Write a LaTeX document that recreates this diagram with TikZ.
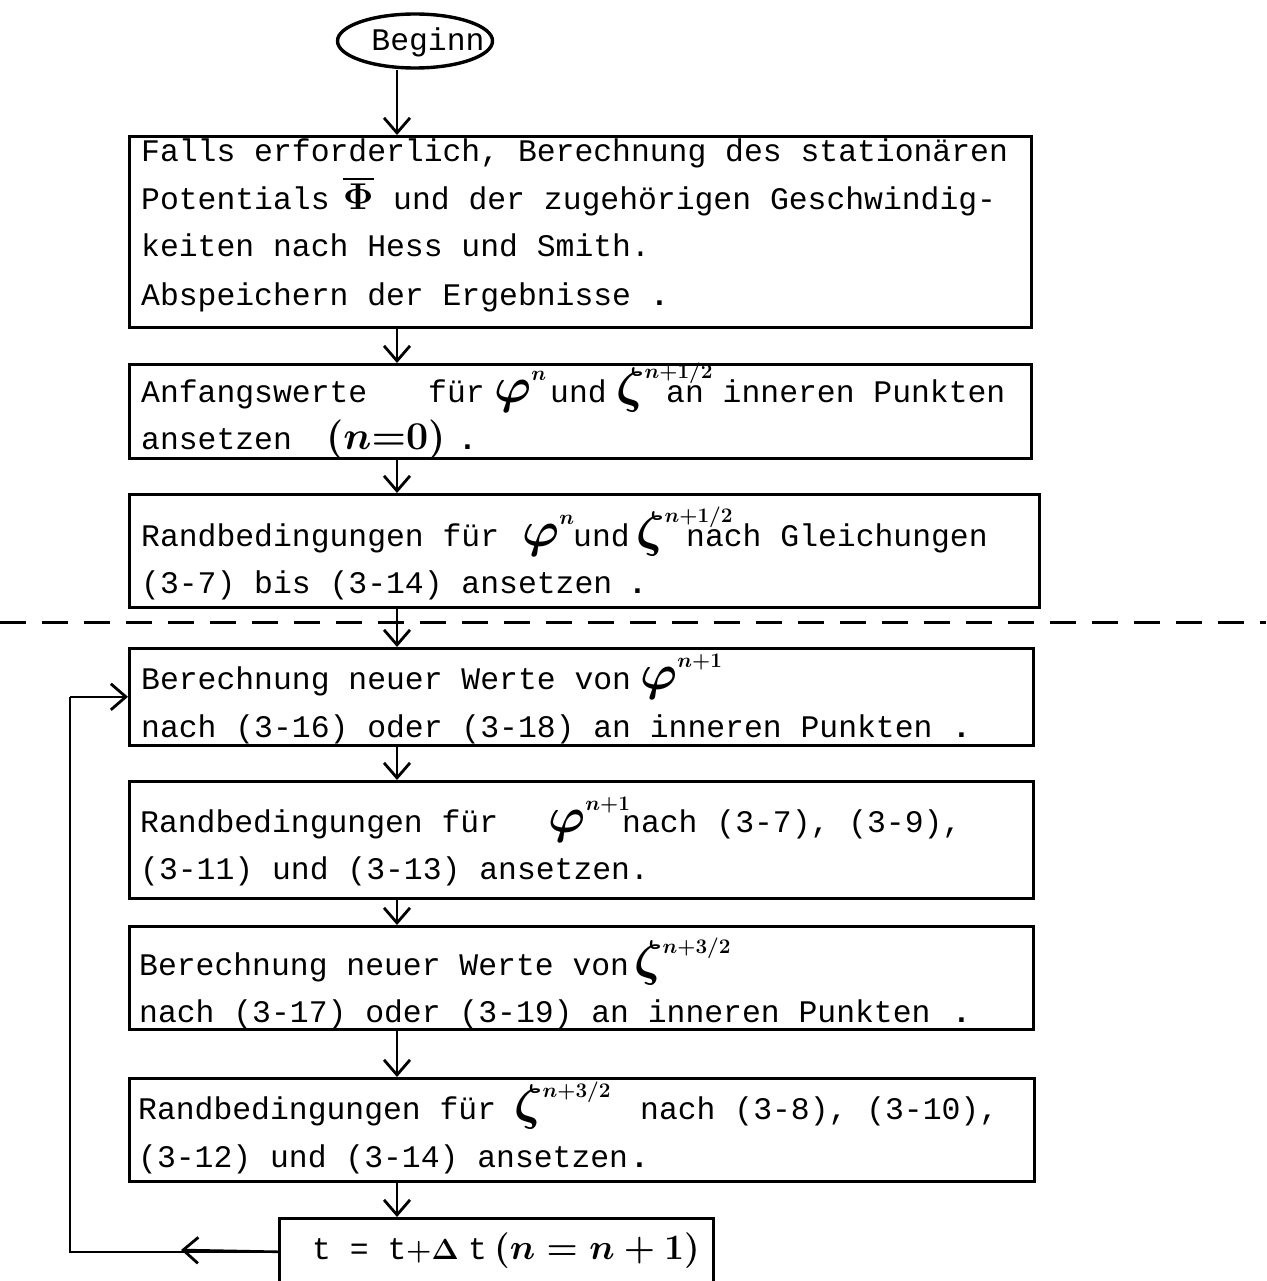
\documentclass[tikz,border=0pt]{standalone}
\usepackage{amsmath}
\usepackage{graphicx}
\usepackage{fontspec}
\usetikzlibrary{arrows.meta,shapes.geometric}
\newfontfamily\tw{Liberation Mono}
% handwritten symbol with raised small superscript (base at 20pt scaled)
\newcommand\hws[3][22pt]{{\fontsize{20}{22}\selectfont\scalebox{2.4}{$\boldsymbol{#2}$}}\raisebox{#1}{\fontsize{20.74}{22}\selectfont$\boldsymbol{#3}$}}
\newcommand\hwm[2][2]{{\fontsize{20}{22}\selectfont\scalebox{#1}{$\boldsymbol{#2}$}}}
\begin{document}
\begin{tikzpicture}[x=1pt,y=-1pt,
  fbox/.style={draw,line width=2.6pt,inner sep=0pt,anchor=north west},
  txt/.style={anchor=base west,inner sep=0pt,font=\tw\fontsize{31.4}{40}\selectfont},
  sym/.style={anchor=base west,inner sep=0pt},
  arr/.style={line width=2.6pt,-{Straight Barb[length=15pt,width=26pt,line width=2.8pt]}},
  conn/.style={line width=2.6pt}]
\clip (0,0) rectangle (1266,1281);
\fill[white] (0,0) rectangle (1266,1281);
\coordinate (ax) at (397,0);
\coordinate (lx) at (70,0);
% start
\node[draw,ellipse,line width=3.4pt,minimum width=155pt,minimum height=54pt,inner sep=0pt] (beginn) at (415,41) {};
\node[txt,anchor=base] (beginntxt) at (428,51) {Beginn};
% boxes
\node[fbox,minimum width=902pt,minimum height=191pt] (b1) at (128,135) {};
\node[fbox,minimum width=902pt,minimum height=94pt] (b2) at (128,363) {};
\node[fbox,minimum width=910pt,minimum height=113pt] (b3) at (128,493) {};
\node[fbox,minimum width=904pt,minimum height=97pt] (b4) at (128,647) {};
\node[fbox,minimum width=904pt,minimum height=117pt] (b5) at (128,780) {};
\node[fbox,minimum width=904pt,minimum height=103pt] (b6) at (128,925) {};
\node[fbox,minimum width=905pt,minimum height=103pt] (b7) at (128,1077) {};
\node[fbox,minimum width=434pt,minimum height=67pt] (b8) at (278,1217) {};
% box 1
\node[txt] (t1a) at (141,162) {Falls erforderlich, Berechnung des stationären};
\node[txt] (t1b) at (141,210) {Potentials};
\node[sym] (s1b) at (343,210) {\hwm[1.8]{\overline{\Phi}}};
\node[txt] (t1c) at (393,210) {und der zugehörigen Geschwindig-};
\node[txt] (t1d) at (141,257) {keiten nach Hess und Smith.};
\node[txt] (t1e) at (141,305) {Abspeichern der Ergebnisse};
\node[txt] (t1f) at (650,305) {\textbf{.}};
% box 2
\node[txt] (t2a) at (141,402) {Anfangswerte};
\node[txt] (t2b) at (428,402) {für};
\node[sym] (s2a) at (494,402) {\hws{\varphi}{n}};
\node[txt] (t2c) at (550,402) {und};
\node[sym] (s2b) at (616,402) {\hws[24pt]{\zeta}{n\mathord{+}1/2}};
\node[txt] (t2d) at (666,402) {an inneren Punkten};
\node[txt] (t2e) at (141,449) {ansetzen};
\node[sym] (s2c) at (326,449) {\hwm[1.9]{(n{=}0)}};
\node[txt] (t2f) at (458,449) {\textbf{.}};
% box 3
\node[txt] (t3a) at (141,546) {Randbedingungen für};
\node[sym] (s3a) at (522,546) {\hws{\varphi}{n}};
\node[txt] (t3b) at (573,546) {und};
\node[sym] (s3b) at (636,546) {\hws[24pt]{\zeta}{n\mathord{+}1/2}};
\node[txt] (t3c) at (686,546) {nach Gleichungen};
\node[txt] (t3d) at (141,593) {(3-7) bis (3-14) ansetzen};
\node[txt] (t3e) at (628,593) {\textbf{.}};
% box 4
\node[txt] (t4a) at (141,689) {Berechnung neuer Werte von};
\node[sym] (s4a) at (640,689) {\hws{\varphi}{n\mathord{+}1}};
\node[txt] (t4b) at (141,737) {nach (3-16) oder (3-18) an inneren Punkten};
\node[txt] (t4c) at (952,737) {\textbf{.}};
% box 5
\node[txt] (t5a) at (140,832) {Randbedingungen für};
\node[sym] (s5a) at (548,832) {\hws{\varphi}{n\mathord{+}1}};
\node[txt] (t5b) at (622,832) {nach (3-7), (3-9),};
\node[txt] (t5c) at (140,879) {(3-11) und (3-13) ansetzen.};
% box 6
\node[txt] (t6a) at (139,975) {Berechnung neuer Werte von};
\node[sym] (s6a) at (634,975) {\hws{\zeta}{n\mathord{+}3/2}};
\node[txt] (t6b) at (139,1022) {nach (3-17) oder (3-19) an inneren Punkten};
\node[txt] (t6c) at (952,1022) {\textbf{.}};
% box 7
\node[txt] (t7a) at (138,1119) {Randbedingungen für};
\node[sym] (s7a) at (514,1119) {\hws{\zeta}{n\mathord{+}3/2}};
\node[txt] (t7b) at (640,1119) {nach (3-8), (3-10),};
\node[txt] (t7c) at (138,1167) {(3-12) und (3-14) ansetzen};
\node[txt] (t7d) at (630,1167) {\textbf{.}};
% box 8
\node[txt] (t8a) at (312,1259) {t = t};
\node[sym] (s8a) at (406,1259) {\hwm[1.4]{+\Delta}};
\node[txt] (t8b) at (468,1259) {t};
\node[sym] (s8b) at (494,1259) {\hwm[1.72]{(n=n+1)}};
% dashed separator
\coordinate (dl) at (0,622);
\coordinate (dr) at (1266,622);
\draw[line width=3pt,dash pattern=on 26pt off 16pt] (dl) -- (dr);
% connectors
\draw[arr] (beginn.south -| ax) -- (b1.north -| ax);
\draw[arr] (b1.south -| ax) -- (b2.north -| ax);
\draw[arr] (b2.south -| ax) -- (b3.north -| ax);
\draw[arr] (b3.south -| ax) -- (b4.north -| ax);
\draw[arr] (b4.south -| ax) -- (b5.north -| ax);
\draw[arr] (b5.south -| ax) -- (b6.north -| ax);
\draw[arr] (b6.south -| ax) -- (b7.north -| ax);
\draw[arr] (b7.south -| ax) -- (b8.north -| ax);
% loop back
\coordinate (lmid) at (181,1250);
\draw[conn] (b8.west) -- (b8.west -| lx) -- (lx |- b4.west);
\draw[arr] (lx |- b4.west) -- (b4.west);
\draw[arr] (b8.west) -- (lmid);
\end{tikzpicture}
\end{document}
